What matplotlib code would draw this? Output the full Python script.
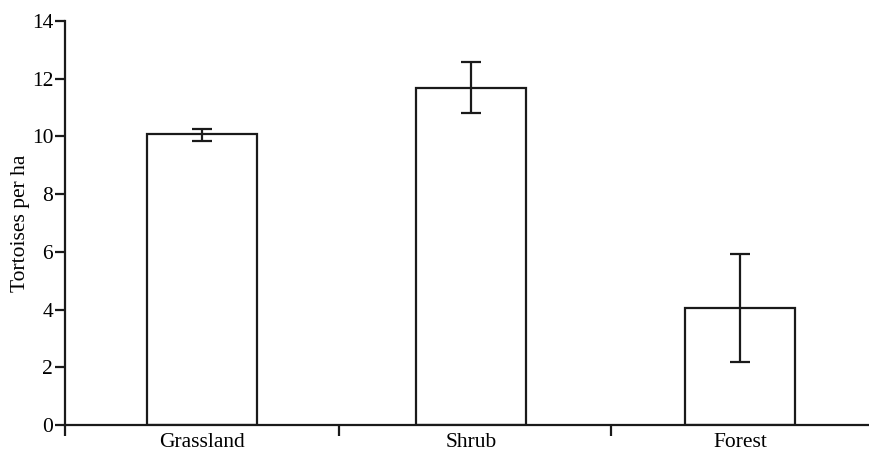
import matplotlib
matplotlib.use("Agg")
import matplotlib.pyplot as plt
import numpy as np

# data
habitats = ["Grassland", "Shrub", "Forest"]
density = [10.07, 11.69, 4.05]
err_low = [9.84, 10.82, 2.18]
err_high = [10.27, 12.57, 5.93]
yticks = [0, 2, 4, 6, 8, 10, 12, 14]

plt.rcParams['font.family'] = ['Liberation Serif', 'DejaVu Serif']

fig = plt.figure(figsize=(8.69, 4.57), dpi=100, facecolor='white')
ax = fig.add_axes([65 / 869, 32 / 457, 1 - 65 / 869, 404 / 457])

x = np.arange(len(habitats))
dens = np.array(density)
yerr = [dens - np.array(err_low), np.array(err_high) - dens]

ax.bar(x, dens, width=0.41, color='white', edgecolor='#1a1a1a', linewidth=1.6, zorder=2)
ax.errorbar(x, dens, yerr=yerr, fmt='none', ecolor='#1a1a1a', elinewidth=1.6,
            capsize=7, capthick=1.6, zorder=3)

ax.set_xlim(-0.51, 2.48)
ax.set_ylim(0, 14)
ax.set_yticks(yticks)
ax.set_yticklabels([str(t) for t in yticks], fontsize=15.5)

# category labels centred under bars, ticks between categories
ax.set_xticks(x)
ax.set_xticklabels(habitats, fontsize=15.5)
ax.tick_params(axis='x', which='major', length=0, pad=6)
ax.set_xticks([-0.51, 0.51, 1.52], minor=True)
ax.tick_params(axis='x', which='minor', length=8, width=1.6, direction='out', color='#1a1a1a')
ax.tick_params(axis='y', length=7.5, width=1.6, direction='out', color='#1a1a1a', pad=1)

for side in ['top', 'right']:
    ax.spines[side].set_visible(False)
for side in ['left', 'bottom']:
    ax.spines[side].set_linewidth(1.6)
    ax.spines[side].set_color('#1a1a1a')

ax.set_ylabel("Tortoises per ha", fontsize=15.5, labelpad=1)

fig.savefig("out.png", dpi=100, facecolor='white')
plt.close(fig)
